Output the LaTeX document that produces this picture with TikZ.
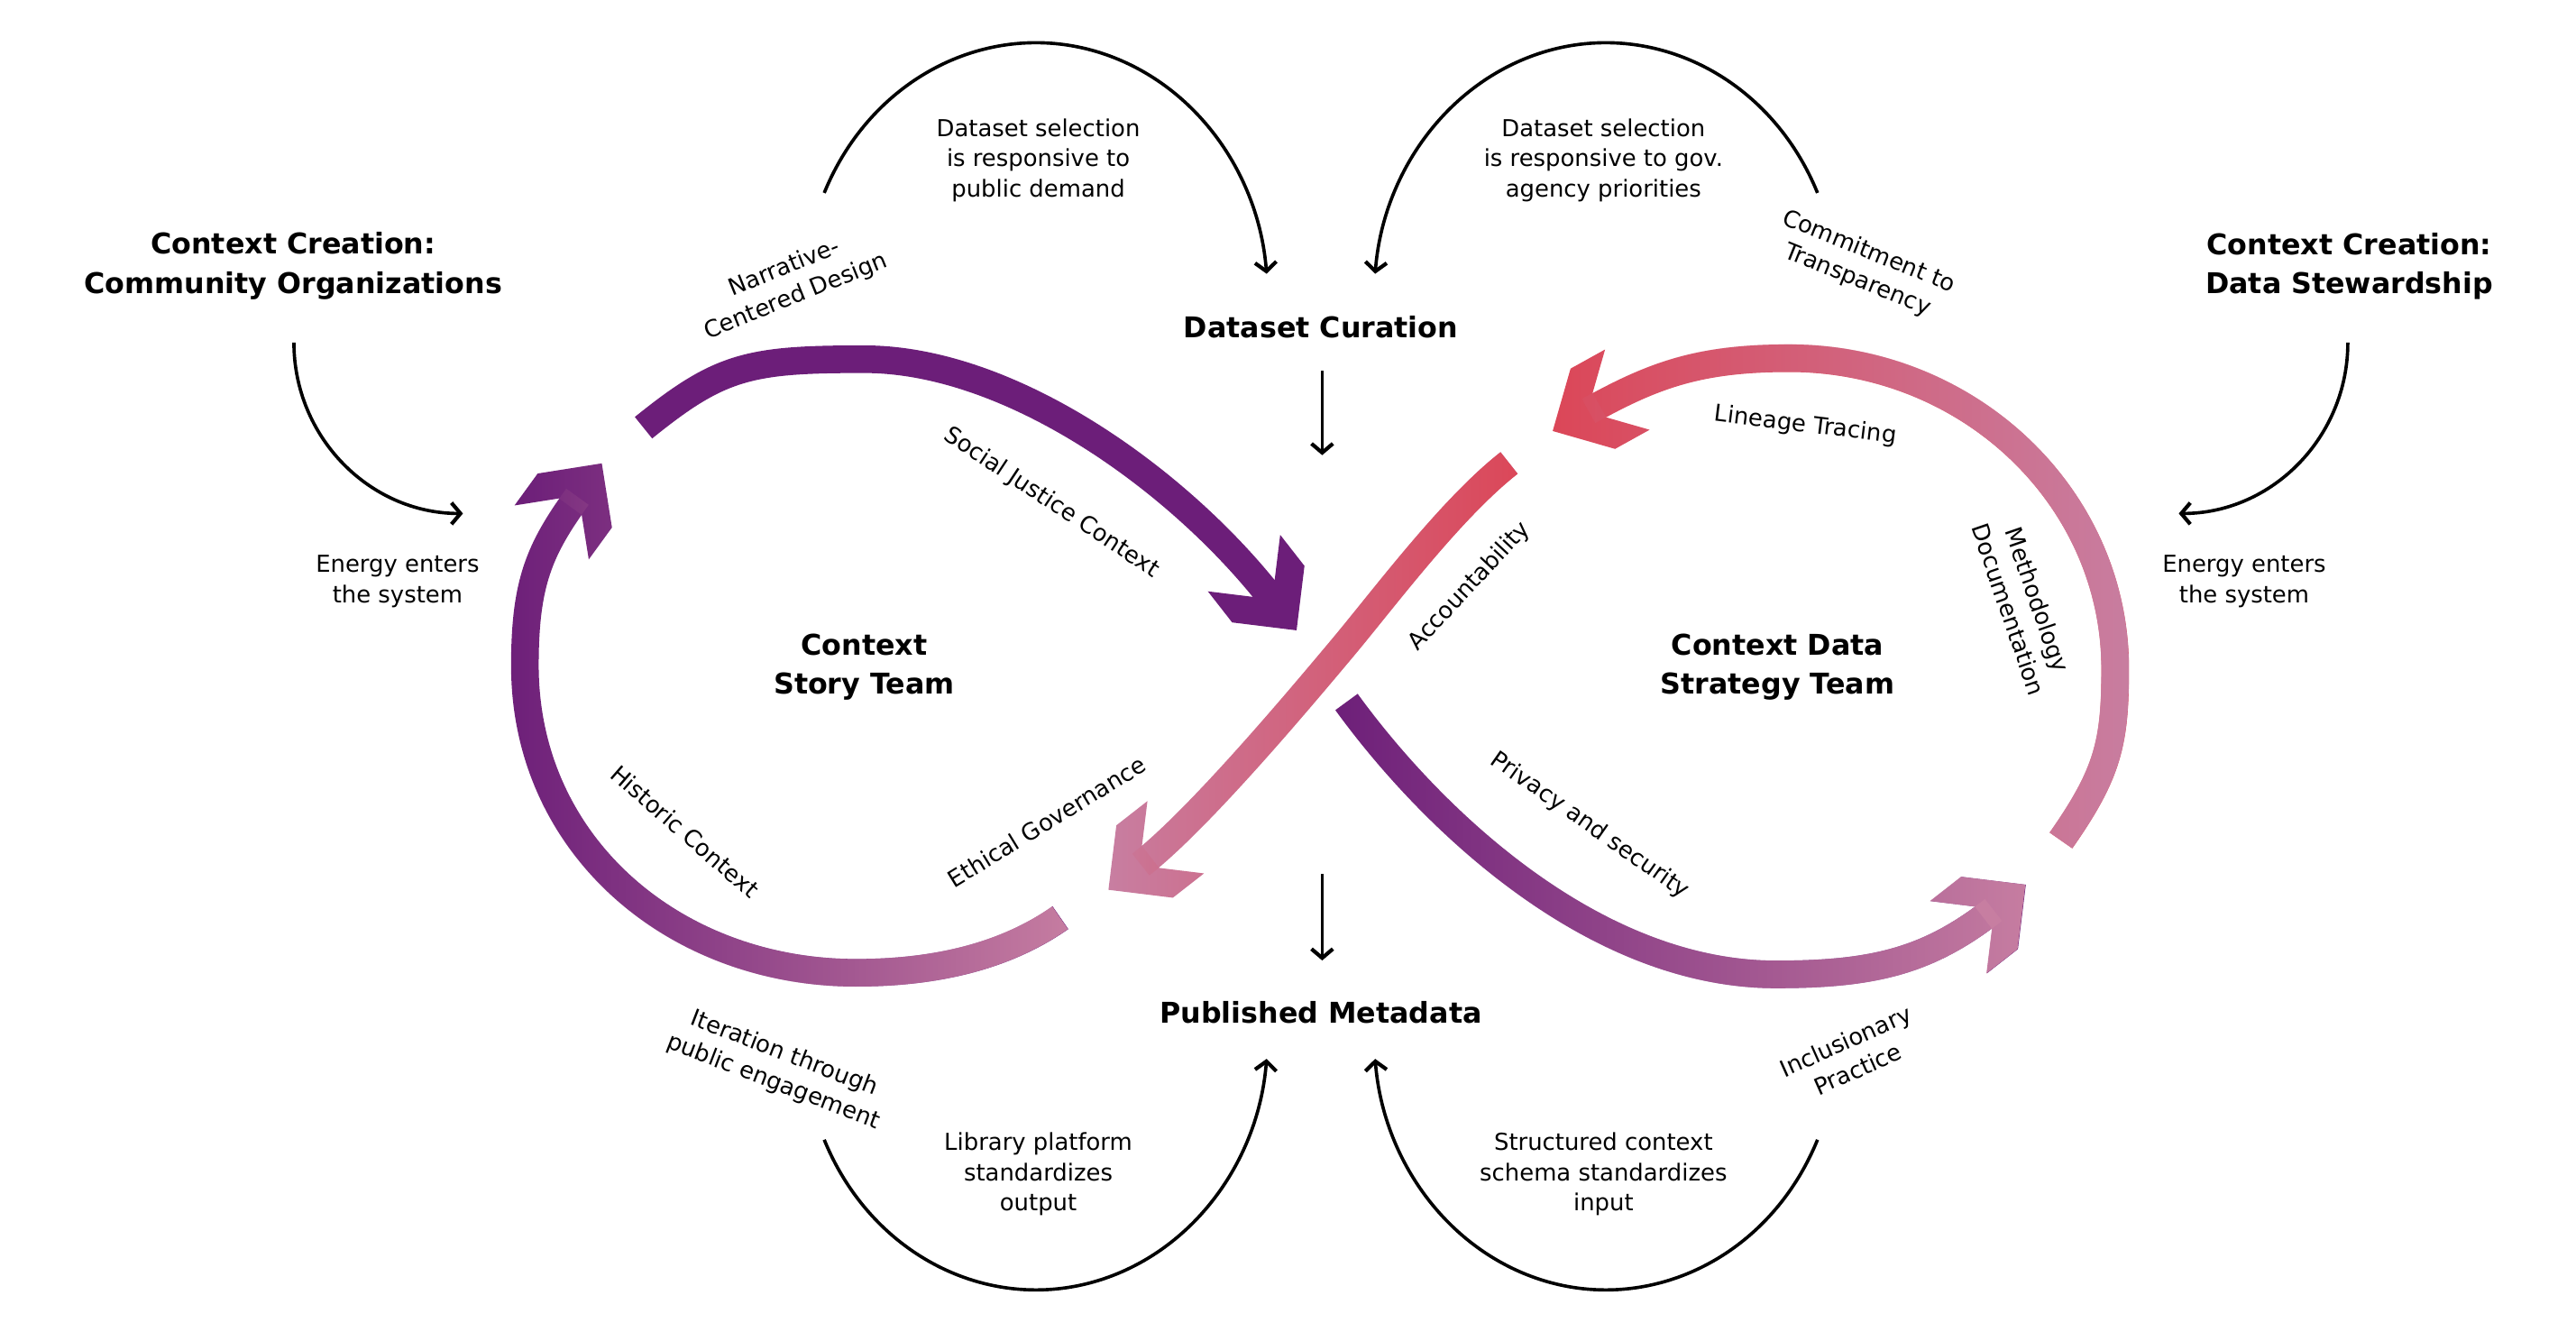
\documentclass[tikz,border=0pt]{standalone}
\usepackage{fontspec}
\setmainfont{DejaVu Sans}
\usetikzlibrary{calc,arrows.meta,fadings}

\definecolor{plum}{RGB}{108,30,121}
\definecolor{mauve}{RGB}{200,127,162}
\definecolor{coral}{RGB}{220,71,88}

% transparent on the left, opaque on the right
\tikzfading[name=fadeLR, left color=transparent!100, right color=transparent!0]

% chevron arrow head: tip #1, pointing along angle #2 (y axis points down)
\newcommand\chevron[2]{(#1) -- ($(#1)+({#2+135}:39.5)$) -- ($(#1)+({#2+135}:39.5)+({#2+180}:24)$)
  -- ($(#1)+({#2+180}:32.5)+({#2+90}:8.5)$) -- ($(#1)+({#2+180}:32.5)+({#2-90}:8.5)$)
  -- ($(#1)+({#2-135}:39.5)+({#2+180}:24)$) -- ($(#1)+({#2-135}:39.5)$) -- cycle}

\begin{document}
\begin{tikzpicture}[x=1pt,y=-1pt,
  title/.style={font=\fontsize{17.4}{24}\selectfont\bfseries, align=center, inner sep=0pt},
  note/.style={font=\fontsize{14.2}{18.5}\selectfont, align=center, inner sep=0pt},
  flow/.style={line width=2pt, -{Straight Barb[length=5.5pt,width=13pt,line width=2.3pt]}},
  band/.style={line width=16.8pt}]
\useasboundingbox (0,0) rectangle (1568,810.6);

% ---------- headings ----------
\node[title] (co)  at (178.5,162) {Context Creation:\\Community Organizations};
\node[title] (dsw) at (1430,162) {Context Creation:\\Data Stewardship};
\node[title] (dc)  at (804,199) {Dataset Curation};
\node[title] (pm)  at (804,616) {Published Metadata};
\node[title] (st)  at (526,406) {Context\\Story Team};
\node[title] (dst) at (1082,406) {Context Data\\Strategy Team};

% ---------- side notes ----------
\node[note] (enl) at (242,354) {Energy enters\\the system};
\node[note] (enr) at (1366,354) {Energy enters\\the system};
\node[note] (sel1) at (632,97.5) {Dataset selection\\is responsive to\\public demand};
\node[note] (sel2) at (976,97.5) {Dataset selection\\is responsive to gov.\\agency priorities};
\node[note] (lib)  at (632,714.5) {Library platform\\standardizes\\output};
\node[note] (sch)  at (976,714.5) {Structured context\\schema standardizes\\input};

% ---------- slanted labels ----------
\node[note, rotate=22]    (ncd) at (481,172) {Narrative-\\Centered Design};
\node[note, rotate=-22]   (ctr) at (1134,162) {Commitment to\\Transparency};
\node[note, rotate=-21]   (itp) at (474,650) {Iteration through\\public engagement};
\node[note, rotate=24]    (inp) at (1127,642) {Inclusionary\\Practice};
\node[note, rotate=-33.5] (sjc) at (640,306) {Social Justice Context};
\node[note, rotate=-7]    (lin) at (1099,259) {Lineage Tracing};
\node[note, rotate=-71]   (mdo) at (1231.5,368) {Methodology\\Documentation};
\node[note, rotate=47]    (acc) at (894.5,357) {Accountability};
\node[note, rotate=-41]   (his) at (417,506) {Historic Context};
\node[note, rotate=31.5]  (eth) at (637,500) {Ethical Governance};
\node[note, rotate=-35]   (prv) at (967.7,502.5) {Privacy and security};

% ---------- thin black arrows ----------
\coordinate (tlA) at (501.7,117.4);
\coordinate (trA) at (1106.3,117.4);
\coordinate (blA) at (501.7,693.6);
\coordinate (brA) at (1106.3,693.6);
\draw[flow] (tlA) arc[start angle=204, end angle=355, x radius=141, y radius=154];
\draw[flow] (trA) arc[start angle=336, end angle=185, x radius=141, y radius=154];
\draw[flow] (blA) arc[start angle=156, end angle=5, x radius=141, y radius=154];
\draw[flow] (brA) arc[start angle=24, end angle=175, x radius=141, y radius=154];

\coordinate (lsA) at (178.9,208.5);
\coordinate (rsA) at (1429.1,208.5);
\draw[flow] (lsA) arc[start angle=180, end angle=90, x radius=102.9, y radius=104];
\draw[flow] (rsA) arc[start angle=0, end angle=90, x radius=102.9, y radius=104];

\coordinate (dcA) at (804.8,225.6);
\coordinate (dcB) at (804.8,277);
\coordinate (pmA) at (804.8,531.8);
\coordinate (pmB) at (804.8,584.5);
\draw[flow] (dcA) -- (dcB);
\draw[flow] (pmA) -- (pmB);

% ---------- band 1: Social Justice Context ----------
\coordinate (s1) at (391.7,260.3);
\coordinate (p1) at (526,218.6);
\coordinate (t1) at (789.2,383.6);
\coordinate (e1) at ($(t1)+(232:25)$);
\draw[band, plum] (s1) .. controls +(-39:60) and +(180:70) .. (p1)
  .. controls +(0:90) and +(232:90) .. (e1);
\fill[plum] \chevron{t1}{52};

% ---------- band 2: Historic Context ----------
\coordinate (s2) at (645.5,558.5);
\coordinate (b2) at (521,592);
\coordinate (l2) at (319.5,405);
\coordinate (t2) at (366.3,282);
\coordinate (e2) at ($(t2)+(126:25)$);
\draw[band, plum] (s2) .. controls +(145:40) and +(0:50) .. (b2)
  .. controls +(180:110) and +(90:110) .. (l2)
  .. controls +(-90:50) and +(126:40) .. (e2);
\fill[plum] \chevron{t2}{-54};
\draw[band, mauve, path fading=fadeLR] (312,450) (650,450)
  (s2) .. controls +(145:40) and +(0:50) .. (b2)
  .. controls +(180:110) and +(90:110) .. (l2)
  .. controls +(-90:50) and +(126:40) .. (e2);
\fill[mauve, path fading=fadeLR] (312,300) (650,300) \chevron{t2}{-54};

% ---------- band 3: Accountability / Ethical Governance ----------
\coordinate (s3) at (918.6,281.7);
\coordinate (m3) at (816.6,395);
\coordinate (t3) at (674.7,541.5);
\coordinate (e3) at ($(t3)+(322:25)$);
\draw[band, mauve] (s3) .. controls +(142:45) and +(-50:40) .. (m3)
  .. controls +(130:40) and +(322:45) .. (e3);
\fill[mauve] \chevron{t3}{142};
\draw[band, coral, path fading=fadeLR] (674,400) (919,400)
  (s3) .. controls +(142:45) and +(-50:40) .. (m3)
  .. controls +(130:40) and +(322:45) .. (e3);
\fill[coral, path fading=fadeLR] (674,520) (919,520) \chevron{t3}{142};

% ---------- band 4: Lineage Tracing / Methodology Documentation ----------
\coordinate (s4) at (1254.5,511.5);
\coordinate (r4) at (1287.5,407);
\coordinate (p4) at (1089,218);
\coordinate (t4) at (945.1,262.3);
\coordinate (e4) at ($(t4)+(331:25)$);
\draw[band, coral] (s4) .. controls +(-55:50) and +(90:45) .. (r4)
  .. controls +(-90:104) and +(0:110) .. (p4)
  .. controls +(180:55) and +(331:45) .. (e4);
\fill[coral] \chevron{t4}{151};
\draw[band, mauve, path fading=fadeLR] (944,300) (1296,300)
  (s4) .. controls +(-55:50) and +(90:45) .. (r4)
  .. controls +(-90:104) and +(0:110) .. (p4)
  .. controls +(180:55) and +(331:45) .. (e4);
\fill[mauve, path fading=fadeLR] (944,260) (1296,260) \chevron{t4}{151};

% ---------- band 5: Privacy and security ----------
\coordinate (s5) at (819.6,427.2);
\coordinate (b5) at (1081,593);
\coordinate (t5) at (1233.1,538.4);
\coordinate (e5) at ($(t5)+(142:25)$);
\draw[band, plum] (s5) .. controls +(54:90) and +(180:110) .. (b5)
  .. controls +(0:60) and +(142:50) .. (e5);
\fill[plum] \chevron{t5}{-38};
\draw[band, mauve, path fading=fadeLR] (813,500) (1240,500)
  (s5) .. controls +(54:90) and +(180:110) .. (b5)
  .. controls +(0:60) and +(142:50) .. (e5);
\fill[mauve, path fading=fadeLR] (813,550) (1240,550) \chevron{t5}{-38};
\end{tikzpicture}
\end{document}
